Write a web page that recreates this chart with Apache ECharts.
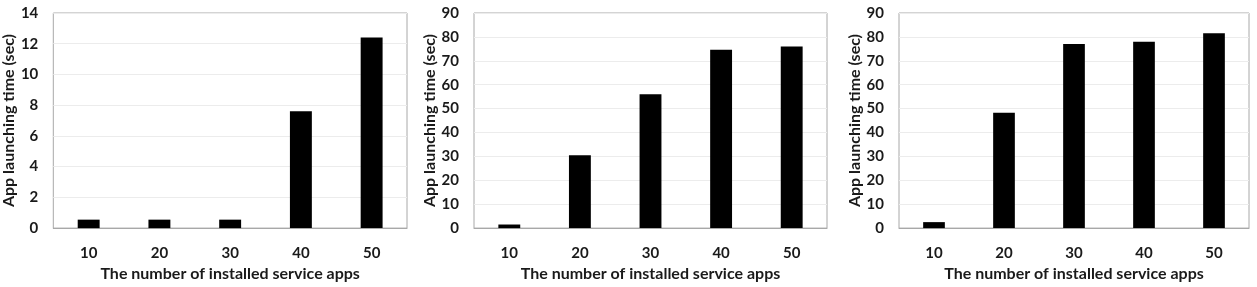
<!DOCTYPE html>
<html>
<head>
<meta charset="utf-8">
<script src="https://cdn.jsdelivr.net/npm/echarts@6/dist/echarts.min.js"></script>
<style>
html,body{margin:0;padding:0;background:#fff;}
#c{width:1257px;height:287px;}
</style>
</head>
<body>
<div id="c"></div>
<script>
const categories = ['10', '20', '30', '40', '50'];
const values1 = [0.55, 0.55, 0.55, 7.6, 12.4];
const values2 = [1.5, 30.5, 56, 74.6, 76];
const values3 = [2.5, 48.3, 77, 78, 81.5];
const yMax = [14, 90, 90];
const yStep = [2, 10, 10];
const xName = 'The number of installed service apps';
const yName = 'App launching time (sec)';

const FONT = 'Lato';
const TXT = '#1a1a1a';
const grids = [
  {left: 52, top: 13, width: 355, height: 220},
  {left: 474, top: 13, width: 353, height: 222},
  {left: 899, top: 13, width: 350, height: 223}
];
const yNameGap = [33, 35, 36];
const allValues = [values1, values2, values3];

const option = {
  animation: false,
  backgroundColor: '#fff',
  grid: grids.map(g => Object.assign({show: true, borderColor: '#a8a8a8', borderWidth: 1, backgroundColor: 'transparent'}, g)),
  xAxis: grids.map((g, i) => ({
    type: 'category',
    gridIndex: i,
    data: categories,
    name: xName,
    nameLocation: 'middle',
    nameGap: 35,
    nameTextStyle: {fontFamily: FONT, fontWeight: 'bold', fontSize: 16, color: TXT},
    axisLine: {show: true, lineStyle: {color: '#a8a8a8', width: 1}},
    axisTick: {show: false},
    axisLabel: {fontFamily: FONT, fontWeight: 'bold', fontSize: 15, color: TXT, margin: 18}
  })),
  yAxis: grids.map((g, i) => ({
    type: 'value',
    gridIndex: i,
    min: 0,
    max: yMax[i],
    interval: yStep[i],
    name: yName,
    nameLocation: 'middle',
    nameGap: yNameGap[i],
    nameTextStyle: {fontFamily: FONT, fontWeight: 'bold', fontSize: 16, color: TXT},
    axisLine: {show: false},
    axisTick: {show: false},
    splitLine: {show: true, lineStyle: {color: '#ececec', width: 1}},
    axisLabel: {fontFamily: FONT, fontWeight: 'bold', fontSize: 15, color: TXT, margin: 15}
  })),
  series: allValues.map((vals, i) => ({
    type: 'bar',
    xAxisIndex: i,
    yAxisIndex: i,
    data: vals,
    barWidth: '31%',
    itemStyle: {color: '#000'}
  }))
};

const chart = echarts.init(document.getElementById('c'), null, {renderer: 'canvas'});
chart.setOption(option);
</script>
</body>
</html>
